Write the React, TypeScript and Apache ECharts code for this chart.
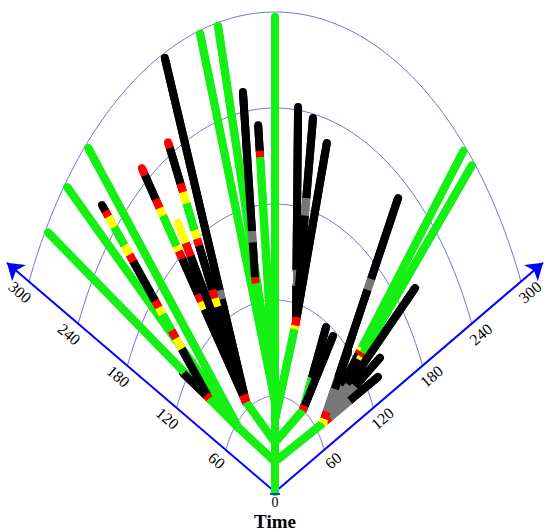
import React, { useEffect, useRef } from "react";
import * as echarts from "echarts";

// Polar layout: time (radius) and angle from vertical (degrees, + = right)
const AXIS_ANGLE = 64;
const AXIS_END = 327;
const TICKS = [60, 120, 180, 240, 300];

// Tree nodes: [time, angle]
const NODES: [number, number][] = [
  [0, 0], //0 origin
  [19, 0], //1
  [31, 0], //2
  [45, 0], //3
  [57, 0], //4
  [57, -45], //5
  [64.6, -29.5], //6
  [93, -51], //7
  [68, 50.7], //8
  [59.7, 30.9], //9
  [108.7, 12.2], //10
  [136, -9.3], //11
  [297, 0], //12
  [297, -56.9], //13
  [297, -50.1], //14
  [297, -43.6], //15
  [298, -16.0], //16
  [298, -12.1], //17
  [230, -4.6], //18
  [252.5, -8.0], //19
  [297, -24.0], //20
  [248, -28.2], //21
  [249.5, -35.8], //22
  [199, -32.3], //23
  [261, -46.6], //24
  [125, -53.6], //25
  [242, 6.0], //26
  [237.4, 10.1], //27
  [225.4, 14.6], //28
  [297, 44.1], //29
  [297, 46.6], //30
  [228, 36.3], //31
  [199.6, 50.3], //32
  [142.4, 53.9], //33
  [133.9, 57.5], //34
  [118.6, 42.4], //35
  [117.3, 28.5], //36
  [116.4, 33.1], //37
];

// Branches: [fromNode, toNode, color stages [untilTime, code]]
const BRANCHES: [number, number, [number, string][]][] = [
  [0, 1, [[19, "g"]]],
  [1, 2, [[31, "g"]]],
  [2, 3, [[45, "g"]]],
  [3, 4, [[57, "g"]]],
  [4, 12, [[297, "g"]]],
  [1, 5, [[57, "g"]]],
  [5, 13, [[297, "g"]]],
  [5, 14, [[297, "g"]]],
  [5, 15, [[297, "g"]]],
  [5, 7, [[93, "g"]]],
  [2, 6, [[64.6, "g"]]],
  [1, 8, [[68, "g"]]],
  [2, 9, [[59.7, "g"]]],
  [3, 10, [[104, "g"], [106.5, "y"], [108.7, "r"]]],
  [4, 16, [[298, "g"]]],
  [4, 17, [[298, "g"]]],
  [4, 18, [[210, "g"], [214, "r"], [230, "k"]]],
  [4, 11, [[132, "g"], [136, "r"]]],
  [11, 19, [[158, "k"], [165, "a"], [252.5, "k"]]],
  [7, 24, [[96, "r"], [136, "k"], [145, "y"], [152, "r"], [166, "g"], [172, "y"], [178, "r"], [212, "k"], [218, "r"], [226, "y"], [242, "g"], [251, "y"], [256, "r"], [261, "k"]]],
  [7, 25, [[97, "r"], [125, "k"]]],
  [6, 20, [[70, "r"], [134, "k"], [140, "a"], [297, "k"]]],
  [6, 21, [[70, "r"], [132, "k"], [138, "y"], [144, "r"], [175, "k"], [180, "r"], [186, "y"], [205, "g"], [213, "y"], [219, "r"], [244, "k"], [248, "r"]]],
  [6, 22, [[70, "r"], [138, "k"], [144, "y"], [150, "r"], [178, "k"], [184, "r"], [188, "y"], [212, "g"], [218, "y"], [225, "r"], [244, "k"], [249.5, "r"]]],
  [6, 23, [[70, "r"], [174, "k"], [184, "r"], [199, "y"]]],
  [10, 26, [[112, "r"], [131, "k"], [141, "a"], [242, "k"]]],
  [10, 27, [[112, "r"], [176, "k"], [187, "a"], [237.4, "k"]]],
  [10, 28, [[112, "r"], [225.4, "k"]]],
  [8, 29, [[71, "y"], [76, "r"], [100, "a"], [126, "k"], [128.5, "r"], [131, "y"], [297, "g"]]],
  [8, 30, [[71, "y"], [76, "r"], [100, "a"], [124, "k"], [127, "y"], [130, "r"], [297, "g"]]],
  [8, 31, [[71, "y"], [76, "r"], [100, "a"], [162, "k"], [170, "a"], [228, "k"]]],
  [8, 32, [[71, "y"], [76, "r"], [105, "a"], [199.6, "k"]]],
  [8, 33, [[71, "y"], [76, "r"], [110, "a"], [142.4, "k"]]],
  [8, 34, [[71, "y"], [76, "r"], [100, "a"], [133.9, "k"]]],
  [8, 35, [[71, "y"], [76, "r"], [92, "a"], [118.6, "k"]]],
  [9, 36, [[63, "r"], [82, "g"], [117.3, "k"]]],
  [9, 37, [[63, "r"], [116.4, "k"]]],
];

const COLORS: Record<string, string> = {
  g: "#14f014",
  k: "#000000",
  r: "#ff0000",
  y: "#ffff00",
  a: "#777777",
};

function pt(t: number, a: number): number[] {
  const r = (a * Math.PI) / 180;
  return [t * Math.sin(r), t * Math.cos(r)];
}

function pointAtTime(A: number[], B: number[], t: number): number[] {
  const dx = B[0] - A[0];
  const dy = B[1] - A[1];
  const a = dx * dx + dy * dy;
  const b = 2 * (A[0] * dx + A[1] * dy);
  const c = A[0] * A[0] + A[1] * A[1] - t * t;
  const disc = b * b - 4 * a * c;
  let s = 0;
  if (a > 0 && disc >= 0) s = (-b + Math.sqrt(disc)) / (2 * a);
  s = Math.max(0, Math.min(1, s));
  return [A[0] + s * dx, A[1] + s * dy];
}

function buildSegments() {
  const segs: any[] = [];
  BRANCHES.forEach(([f, to, stages]) => {
    const A = pt(NODES[f][0], NODES[f][1]);
    const B = pt(NODES[to][0], NODES[to][1]);
    let prev = A;
    stages.forEach(([tEnd, code], i) => {
      const p1 = i === stages.length - 1 ? B : pointAtTime(A, B, tEnd);
      segs.push({ coords: [prev, p1], lineStyle: { color: COLORS[code] } });
      prev = p1;
    });
  });
  return segs;
}

const textStyle = (text: string, size: number, weight = "normal") => ({
  text,
  fill: "#000",
  fontSize: size,
  fontWeight: weight,
  fontFamily: "Liberation Serif",
  align: "center",
  verticalAlign: "middle",
  textAlign: "center",
  textVerticalAlign: "middle",
});

export default function App() {
  const ref = useRef<HTMLDivElement>(null);
  useEffect(() => {
    if (!ref.current) return;
    const chart = echarts.init(ref.current, undefined, { renderer: "svg" });
    const segs = buildSegments();
    const arcs = TICKS.map((t) => {
      const coords: number[][] = [];
      for (let a = -AXIS_ANGLE; a <= AXIS_ANGLE; a += 1) coords.push(pt(t, a));
      return { coords };
    });
    const axes = [-AXIS_ANGLE, AXIS_ANGLE].map((a) => ({
      coords: [pt(0, 0), pt(AXIS_END, a)],
    }));
    chart.setOption({
      animation: false,
      grid: { left: 0, right: 0, top: 12, bottom: 39 },
      xAxis: { type: "value", min: -301.5, max: 301.5, show: false },
      yAxis: { type: "value", min: 0, max: 300, show: false },
      series: [
        {
          type: "lines",
          coordinateSystem: "cartesian2d",
          polyline: true,
          silent: true,
          clip: false,
          symbol: ["arrow", "arrow"],
          symbolSize: [5, 8],
          lineStyle: { color: "#7272d8", width: 1, opacity: 1 },
          data: arcs,
          z: 1,
        },
        {
          type: "lines",
          coordinateSystem: "cartesian2d",
          silent: true,
          clip: false,
          symbol: ["none", "arrow"],
          symbolSize: [11, 16],
          lineStyle: { color: "#0000ff", width: 2, opacity: 1 },
          data: axes,
          z: 2,
        },
        {
          type: "lines",
          coordinateSystem: "cartesian2d",
          silent: true,
          clip: false,
          lineStyle: { width: 8, cap: "round", opacity: 1 },
          data: segs,
          z: 3,
        },
        {
          type: "lines",
          coordinateSystem: "cartesian2d",
          silent: true,
          clip: false,
          lineStyle: { width: 8, cap: "butt", opacity: 1 },
          data: segs,
          z: 4,
        },
      ],
    });

    const px = (p: number[]) => chart.convertToPixel({ gridIndex: 0 }, p) as number[];
    const o = px([0, 0]);
    const graphics: any[] = [];
    [-1, 1].forEach((side) => {
      const end = px(pt(300, side * AXIS_ANGLE));
      const len = Math.hypot(end[0] - o[0], end[1] - o[1]);
      const d = [(end[0] - o[0]) / len, (end[1] - o[1]) / len];
      const n = side < 0 ? [d[1], -d[0]] : [-d[1], d[0]];
      const ang = Math.atan2(-d[1], Math.abs(d[0]));
      TICKS.forEach((t) => {
        const p = px(pt(t, side * AXIS_ANGLE));
        graphics.push({
          type: "text",
          x: p[0] + n[0] * 14,
          y: p[1] + n[1] * 14,
          rotation: side < 0 ? -ang : ang,
          style: textStyle(String(t), 16),
          z: 10,
        });
      });
    });
    graphics.push({
      type: "line",
      shape: { x1: o[0] - 5, y1: o[1] + 2, x2: o[0] + 5, y2: o[1] + 2 },
      style: { stroke: "#0000ff", lineWidth: 1.5 },
      z: 10,
    });
    graphics.push({
      type: "text",
      x: o[0],
      y: o[1] + 10,
      style: textStyle("0", 14),
      z: 10,
    });
    graphics.push({
      type: "text",
      x: o[0],
      y: o[1] + 29,
      style: textStyle("Time", 19, "bold"),
      z: 10,
    });
    chart.setOption({ graphic: graphics });
    return () => chart.dispose();
  }, []);
  return (
    <div
      ref={ref}
      style={{ position: "fixed", left: 0, top: 0, width: 550, height: 531, background: "#fff" }}
    />
  );
}
